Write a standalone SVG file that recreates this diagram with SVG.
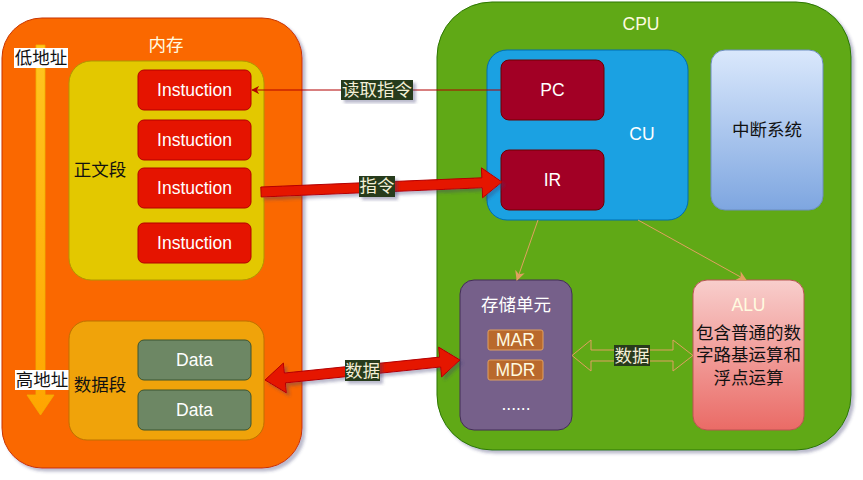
<svg xmlns="http://www.w3.org/2000/svg" width="863" height="480" viewBox="0 0 863 480">
<defs>
  <filter id="sh" x="-10%" y="-10%" width="130%" height="130%">
    <feDropShadow dx="3" dy="3" stdDeviation="1.5" flood-color="#3c3c70" flood-opacity="0.35"/>
  </filter>
  <linearGradient id="gBlue" x1="0" y1="0" x2="0" y2="1">
    <stop offset="0" stop-color="#dae8fc"/>
    <stop offset="1" stop-color="#7ea6e0"/>
  </linearGradient>
  <linearGradient id="gRed" x1="0" y1="0" x2="0" y2="1">
    <stop offset="0" stop-color="#f8cecc"/>
    <stop offset="1" stop-color="#ea6b66"/>
  </linearGradient>
  <linearGradient id="gYel" x1="0" y1="0" x2="0" y2="1">
    <stop offset="0" stop-color="#ffc61f"/>
    <stop offset="1" stop-color="#ffa500"/>
  </linearGradient>
  <marker id="arrRed" viewBox="0 0 10 10" refX="9" refY="5" markerWidth="8" markerHeight="8" markerUnits="userSpaceOnUse" orient="auto">
    <path d="M0,0 L10,5 L0,10 L3,5 Z" fill="#B20000"/>
  </marker>
  <marker id="arrTan" viewBox="0 0 10 10" refX="9" refY="5" markerWidth="10" markerHeight="10" markerUnits="userSpaceOnUse" orient="auto">
    <path d="M0,0 L10,5 L0,10 L3,5 Z" fill="#e0a060"/>
  </marker>
</defs>
<style>
  text { font-family: "Liberation Sans", "Noto Sans CJK SC", sans-serif; font-size: 17.5px; text-anchor: middle; }
  .w { fill: #ffffff; }
  .cream { fill: #fffbe0; }
  .blk { fill: #111111; }
  .instr { fill: #e51400; stroke: #B20000; stroke-width: 1; }
  .data { fill: #6d8764; stroke: #3A5431; stroke-width: 1; }
  .reg { fill: #a20025; stroke: #6F0000; stroke-width: 1; }
  .mreg { fill: #b9692c; stroke: #e0a060; stroke-width: 1; }
  .lblbg { fill: #283a1c; filter: url(#sh); }
  .lbl { fill: #f3efd6; }
</style>

<!-- Memory -->
<g id="memory">
  <rect x="2" y="18" width="300" height="450" rx="40" fill="#fa6800" stroke="#C73500" filter="url(#sh)"/>
  <text x="166" y="51" class="cream">内存</text>
</g>

<g id="addr-arrow">
  <path d="M36,45 L45,45 L45,395 L54,395 L40.5,415 L27,395 L36,395 Z" fill="url(#gYel)" stroke="#f0b000" stroke-width="0.8"/>
</g>
<g id="low-addr">
  <rect x="14" y="48" width="54" height="20" fill="#ffffff"/>
  <text x="41" y="64" class="blk">低地址</text>
</g>
<g id="high-addr">
  <rect x="15" y="370" width="54" height="20" fill="#ffffff"/>
  <text x="42" y="386" class="blk">高地址</text>
</g>

<g id="text-seg">
  <rect x="69" y="61" width="195" height="219" rx="22" fill="#e3c800" stroke="#B09500"/>
  <text x="100" y="176" class="blk">正文段</text>
</g>
<g id="instr1"><rect x="138" y="70" width="113" height="40" rx="6" class="instr"/><text x="194.5" y="96" class="w">Instuction</text></g>
<g id="instr2"><rect x="138" y="120" width="113" height="40" rx="6" class="instr"/><text x="194.5" y="146" class="w">Instuction</text></g>
<g id="instr3"><rect x="138" y="168" width="113" height="40" rx="6" class="instr"/><text x="194.5" y="194" class="w">Instuction</text></g>
<g id="instr4"><rect x="138" y="223" width="113" height="40" rx="6" class="instr"/><text x="194.5" y="249" class="w">Instuction</text></g>

<g id="data-seg">
  <rect x="69" y="321" width="195" height="119" rx="18" fill="#f0a30a" stroke="#BD7000"/>
  <text x="100" y="391" class="blk">数据段</text>
</g>
<g id="data1"><rect x="138" y="340" width="113" height="40" rx="6" class="data"/><text x="194.5" y="366" class="w">Data</text></g>
<g id="data2"><rect x="138" y="390" width="113" height="40" rx="6" class="data"/><text x="194.5" y="416" class="w">Data</text></g>

<!-- CPU -->
<g id="cpu">
  <rect x="437" y="2" width="414" height="448" rx="55" fill="#60a917" stroke="#2D7600" filter="url(#sh)"/>
  <text x="641" y="30" class="cream">CPU</text>
</g>
<g id="cu">
  <rect x="487" y="50" width="201" height="170" rx="20" fill="#1ba1e2" stroke="#006EAF"/>
  <text x="642" y="140" class="w">CU</text>
</g>
<g id="pc"><rect x="501" y="60" width="103" height="60" rx="8" class="reg"/><text x="552.5" y="96" class="w">PC</text></g>
<g id="ir"><rect x="501" y="150" width="103" height="60" rx="8" class="reg"/><text x="552.5" y="186" class="w">IR</text></g>
<g id="interrupt">
  <rect x="711" y="50" width="112" height="160" rx="14" fill="url(#gBlue)" stroke="#6c8ebf"/>
  <text x="767" y="136" class="blk">中断系统</text>
</g>
<g id="storage">
  <rect x="460" y="280" width="112" height="150" rx="14" fill="#76608a" stroke="#432D57"/>
  <text x="516" y="311" class="w">存储单元</text>
  <rect x="488" y="330" width="55" height="20" rx="2" class="mreg"/>
  <text x="515.5" y="346" class="cream">MAR</text>
  <rect x="488" y="360" width="55" height="20" rx="2" class="mreg"/>
  <text x="515.5" y="376" class="cream">MDR</text>
  <text x="516" y="410" class="w">......</text>
</g>
<g id="alu">
  <rect x="693" y="280" width="111" height="150" rx="14" fill="url(#gRed)" stroke="#b85450"/>
  <text x="748.5" y="311" class="cream">ALU</text>
  <text x="748.5" y="339" class="blk">包含普通的数</text>
  <text x="748.5" y="361" class="blk">字路基运算和</text>
  <text x="748.5" y="384" class="blk">浮点运算</text>
</g>

<!-- Connectors -->
<g id="connectors">
  <line x1="501" y1="90" x2="252" y2="90" stroke="#B20000" stroke-width="1" marker-end="url(#arrRed)"/>
  <rect x="341" y="80" width="72" height="20" class="lblbg"/>
  <text x="377" y="96" class="lbl">读取指令</text>

  <polygon points="261.2,197 482.2,187.8 482.6,197.8 502,182 481.4,167.8 481.8,177.8 260.8,187" fill="#e51400" stroke="#B20000" stroke-width="1" filter="url(#sh)"/>
  <rect x="359" y="176" width="36" height="21" class="lblbg"/>
  <text x="377" y="192" class="lbl">指令</text>

  <polygon points="265,380 286.4,392.9 285.4,382.9 440.6,367 441.6,377 460,360 438.6,347.1 439.6,357.1 284.4,373 283.4,363" fill="#e51400" stroke="#B20000" stroke-width="1" filter="url(#sh)"/>
  <rect x="345" y="360" width="35" height="21" class="lblbg"/>
  <text x="362.5" y="376.5" class="lbl">数据</text>

  <line x1="538" y1="220" x2="517" y2="280" stroke="#e0a060" stroke-width="1" marker-end="url(#arrTan)"/>
  <line x1="638" y1="220" x2="746" y2="280" stroke="#e0a060" stroke-width="1" marker-end="url(#arrTan)"/>

  <polygon points="572,355.5 591,340 591,350 673,350 673,340 693,355.5 673,371 673,361 591,361 591,371" fill="none" stroke="#e0a060" stroke-width="1"/>
  <rect x="614" y="345" width="36" height="21" fill="#283a1c"/>
  <text x="632" y="361.5" class="lbl">数据</text>
</g>
</svg>
